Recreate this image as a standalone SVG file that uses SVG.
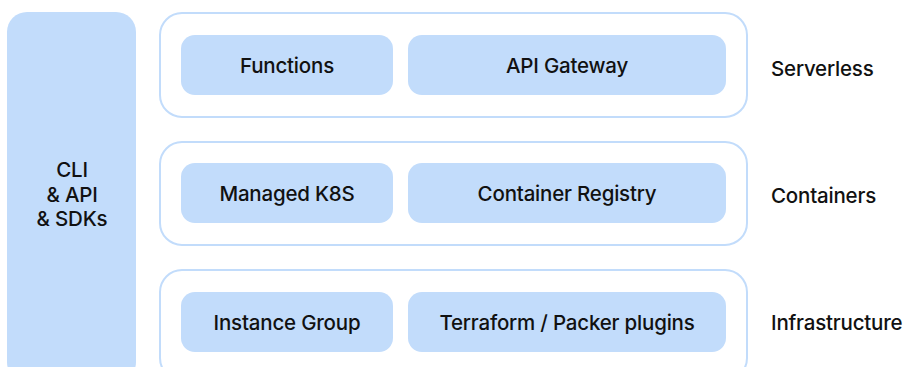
<svg xmlns="http://www.w3.org/2000/svg" width="909" height="367" viewBox="0 0 909 367">
<style>
.side{fill:#c2dcfb}
.layer{fill:#fff;stroke:#c2dcfb;stroke-width:2}
.item{fill:#c2dcfb}
text{font-family:Inter,"Open Sans",sans-serif;font-size:20.5px;font-weight:500;fill:#111;text-anchor:middle;letter-spacing:-0.2px}
.lbl{text-anchor:start}
</style>
<rect width="909" height="367" fill="#fff"/>
<g id="cli">
<rect class="side" x="7" y="12" width="129" height="370" rx="20"/>
<text x="72" y="177">CLI</text>
<text x="72" y="202">&amp; API</text>
<text x="72" y="226">&amp; SDKs</text>
</g>
<g id="serverless">
<rect class="layer" x="160" y="13" width="587" height="104" rx="22"/>
<text class="lbl" x="771" y="76">Serverless</text>
</g>
<g id="functions">
<rect class="item" x="181" y="35" width="212" height="60" rx="14"/>
<text x="287" y="73">Functions</text>
</g>
<g id="apigw">
<rect class="item" x="408" y="35" width="318" height="60" rx="14"/>
<text x="567" y="73">API Gateway</text>
</g>
<g id="containers">
<rect class="layer" x="160" y="142" width="587" height="103" rx="22"/>
<text class="lbl" x="771" y="203">Containers</text>
</g>
<g id="k8s">
<rect class="item" x="181" y="163" width="212" height="60" rx="14"/>
<text x="287" y="201">Managed K8S</text>
</g>
<g id="registry">
<rect class="item" x="408" y="163" width="318" height="60" rx="14"/>
<text x="567" y="201">Container Registry</text>
</g>
<g id="infrastructure">
<rect class="layer" x="160" y="270" width="587" height="110" rx="22"/>
<text class="lbl" x="771" y="330">Infrastructure</text>
</g>
<g id="instancegroup">
<rect class="item" x="181" y="292" width="212" height="60" rx="14"/>
<text x="287" y="330">Instance Group</text>
</g>
<g id="terraform">
<rect class="item" x="408" y="292" width="318" height="60" rx="14"/>
<text x="567" y="330">Terraform / Packer plugins</text>
</g>
<g id="connectors"/>
</svg>
